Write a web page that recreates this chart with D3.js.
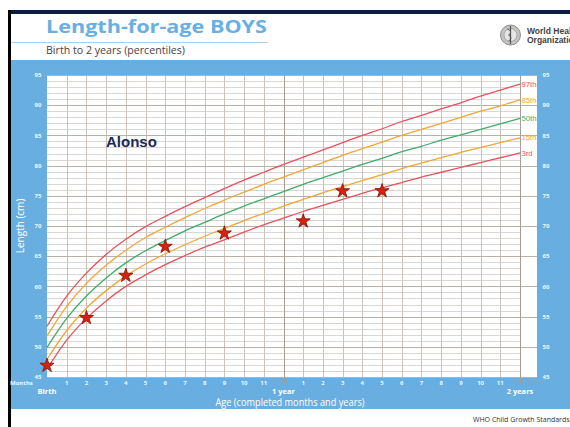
<!DOCTYPE html>
<html>
<head>
<meta charset="utf-8">
<script src="https://cdn.jsdelivr.net/npm/d3@7"></script>
<style>
  html, body { margin: 0; padding: 0; background: #fff; }
  svg { display: block; }
</style>
</head>
<body>
<div id="chart"></div>
<script>
// WHO length-for-age percentiles, boys, birth to 24 months (cm)
const months = d3.range(0, 25);
const p3  = [46.3, 51.1, 54.7, 57.6, 60.0, 61.9, 63.6, 65.1, 66.5, 67.7, 69.0, 70.2, 71.3, 72.4, 73.4, 74.4, 75.4, 76.3, 77.2, 78.1, 78.9, 79.7, 80.5, 81.3, 82.1];
const p15 = [47.9, 52.7, 56.4, 59.3, 61.7, 63.7, 65.4, 66.9, 68.3, 69.6, 70.9, 72.1, 73.3, 74.4, 75.5, 76.5, 77.5, 78.5, 79.5, 80.4, 81.3, 82.2, 83.0, 83.8, 84.6];
const p50 = [49.9, 54.7, 58.4, 61.4, 63.9, 65.9, 67.6, 69.2, 70.6, 72.0, 73.3, 74.5, 75.7, 76.9, 78.0, 79.1, 80.2, 81.2, 82.3, 83.2, 84.2, 85.1, 86.0, 86.9, 87.8];
const p85 = [51.8, 56.7, 60.5, 63.5, 66.0, 68.1, 69.8, 71.4, 72.9, 74.3, 75.6, 76.9, 78.1, 79.3, 80.5, 81.7, 82.8, 83.9, 85.0, 86.0, 87.0, 88.0, 89.0, 89.9, 90.9];
const p97 = [53.4, 58.4, 62.2, 65.3, 67.8, 69.9, 71.6, 73.2, 74.7, 76.2, 77.6, 78.9, 80.2, 81.4, 82.6, 83.8, 85.0, 86.1, 87.3, 88.3, 89.4, 90.4, 91.5, 92.5, 93.5];

// Alonso's measurements
const childAges    = [0, 2, 4, 6, 9, 13, 15, 17];
const childLengths = [46.9, 54.8, 61.8, 66.6, 68.8, 70.8, 75.8, 75.8];

const yTicks = [45, 50, 55, 60, 65, 70, 75, 80, 85, 90, 95];
const monthLabels = ["1","2","3","4","5","6","7","8","9","10","11"];
const yearLabels = [{m: 0, t: "Birth"}, {m: 12, t: "1 year"}, {m: 24, t: "2 years"}];
const percentileNames = ["97th", "85th", "50th", "15th", "3rd"];

const W = 570, H = 427;
const blue = "#69aee0";
const red = "#e8525f", orange = "#f4a535", green = "#3fac6a";

const svg = d3.select("#chart").append("svg")
  .attr("width", W).attr("height", H)
  .style("font-family", "'Open Sans', sans-serif");

// page frame
svg.append("rect").attr("x", 8).attr("y", 10).attr("width", W - 8).attr("height", 4).attr("fill", "#0c1d42");
svg.append("rect").attr("x", 8).attr("y", 10).attr("width", 3).attr("height", H - 10).attr("fill", "#000");

// header
svg.append("text").attr("x", 46).attr("y", 33)
  .attr("font-size", 18).attr("font-weight", 700).attr("fill", "#68b0e3")
  .attr("textLength", 221).attr("lengthAdjust", "spacingAndGlyphs")
  .text("Length-for-age BOYS");
svg.append("line").attr("x1", 11).attr("x2", 268).attr("y1", 42.5).attr("y2", 42.5)
  .attr("stroke", "#a9d0ee").attr("stroke-width", 1);
svg.append("text").attr("x", 46).attr("y", 54)
  .attr("font-size", 10).attr("fill", "#4b4242")
  .attr("textLength", 139).attr("lengthAdjust", "spacingAndGlyphs")
  .text("Birth to 2 years (percentiles)");

// WHO emblem (simplified)
const logo = svg.append("g").attr("transform", "translate(510.5,35)");
logo.append("circle").attr("r", 10).attr("fill", "#c4c4c4").attr("stroke", "#777").attr("stroke-width", 0.8);
logo.append("circle").attr("r", 6.5).attr("fill", "#e6e6e6").attr("stroke", "#888").attr("stroke-width", 0.6);
logo.append("line").attr("y1", -9).attr("y2", 9).attr("stroke", "#555").attr("stroke-width", 1.2);
logo.append("path").attr("d", "M-3,-6 Q3,-3 -2,0 Q3,3 -2,6").attr("fill", "none").attr("stroke", "#555").attr("stroke-width", 1);
const logoFont = "'Liberation Sans Narrow', 'Liberation Sans', sans-serif";
svg.append("text").attr("x", 527).attr("y", 34).attr("font-size", 8.5).attr("font-weight", 700)
  .attr("fill", "#444").attr("font-family", logoFont).text("World Health");
svg.append("text").attr("x", 527).attr("y", 42.5).attr("font-size", 8.5).attr("font-weight", 700)
  .attr("fill", "#444").attr("font-family", logoFont).text("Organization");

// blue panel
svg.append("rect").attr("x", 11).attr("y", 60).attr("width", W - 11).attr("height", 349).attr("fill", blue);

const x = d3.scaleLinear().domain([0, 24]).range([47, 520]);
const y = d3.scaleLinear().domain([45, 95]).range([377, 75]);

// plot area
svg.append("rect").attr("x", x(0)).attr("y", y(95)).attr("width", 537 - x(0)).attr("height", y(45) - y(95)).attr("fill", "#fff");

const grid = svg.append("g");
// 1 cm lines
grid.selectAll(".minor").data(d3.range(46, 95).filter(v => v % 5 !== 0)).join("line")
  .attr("x1", x(0)).attr("x2", x(24))
  .attr("y1", d => Math.round(y(d)) + 0.5).attr("y2", d => Math.round(y(d)) + 0.5)
  .attr("stroke", "#dad6d2").attr("stroke-width", 1);
// month lines
grid.selectAll(".month").data(d3.range(1, 24)).join("line")
  .attr("x1", d => Math.round(x(d)) + 0.5).attr("x2", d => Math.round(x(d)) + 0.5)
  .attr("y1", y(95)).attr("y2", y(45))
  .attr("stroke", d => d === 12 ? "#a69d95" : "#c9c1ba").attr("stroke-width", 1);
// 5 cm lines
grid.selectAll(".major").data(yTicks).join("line")
  .attr("x1", x(0)).attr("x2", 537)
  .attr("y1", d => Math.round(y(d)) + 0.5).attr("y2", d => Math.round(y(d)) + 0.5)
  .attr("stroke", "#b9b0a8").attr("stroke-width", 1);
// year ticks
grid.selectAll(".year").data([12, 24]).join("line")
  .attr("x1", d => Math.round(x(d)) + 0.5).attr("x2", d => Math.round(x(d)) + 0.5)
  .attr("y1", y(95)).attr("y2", y(45) + 7)
  .attr("stroke", "#a69d95").attr("stroke-width", 1);

// percentile curves
const series = [
  {name: percentileNames[0], values: p97, color: red},
  {name: percentileNames[1], values: p85, color: orange},
  {name: percentileNames[2], values: p50, color: green},
  {name: percentileNames[3], values: p15, color: orange},
  {name: percentileNames[4], values: p3,  color: red}
];
const line = d3.line().x((d, i) => x(months[i])).y(d => y(d)).curve(d3.curveCatmullRom.alpha(0.5));
svg.append("g").selectAll("path").data(series).join("path")
  .attr("d", d => line(d.values))
  .attr("fill", "none").attr("stroke", d => d.color).attr("stroke-width", 1.3);

const labelY = [84, 100, 118, 137, 153];
svg.append("g").selectAll("text").data(series).join("text")
  .attr("x", 521.5).attr("y", (d, i) => labelY[i] + 3)
  .attr("font-size", 8).attr("fill", d => d.color)
  .attr("font-family", logoFont)
  .attr("textLength", d => d.name.length === 4 ? 15 : 11).attr("lengthAdjust", "spacingAndGlyphs")
  .text(d => d.name);

// y tick labels, both sides
const tickStyle = sel => sel.attr("font-size", 6).attr("font-weight", 700).attr("fill", "#eef6fc")
  .attr("text-anchor", "middle").attr("dy", "0.35em");
svg.append("g").selectAll("text").data(yTicks).join("text")
  .attr("x", 38).attr("y", d => y(d)).text(d => d).call(tickStyle);
svg.append("g").selectAll("text").data(yTicks).join("text")
  .attr("x", 546).attr("y", d => y(d)).text(d => d).call(tickStyle);

// x tick labels
svg.append("g").selectAll("text").data(d3.range(1, 24).filter(m => m !== 12)).join("text")
  .attr("x", d => x(d)).attr("y", 382.5).text(d => monthLabels[(d % 12) - 1]).call(tickStyle);
svg.append("text").attr("x", 10).attr("y", 382.5).attr("font-size", 6).attr("font-weight", 700)
  .attr("fill", "#eef6fc").attr("dy", "0.35em").text("Months");
svg.append("g").selectAll("text").data(yearLabels).join("text")
  .attr("x", d => x(d.m)).attr("y", 393.5)
  .attr("font-size", 7.5).attr("font-weight", 700).attr("fill", "#fff").attr("text-anchor", "middle")
  .text(d => d.t);

// axis titles
svg.append("text").attr("x", 290).attr("y", 406)
  .attr("font-size", 10.5).attr("fill", "#fff").attr("text-anchor", "middle")
  .attr("textLength", 149).attr("lengthAdjust", "spacingAndGlyphs")
  .text("Age (completed months and years)");
svg.append("text").attr("transform", "translate(24,226) rotate(-90)")
  .attr("font-size", 10).attr("fill", "#fff").attr("text-anchor", "middle")
  .text("Length (cm)");

// child name
svg.append("text").attr("x", 106).attr("y", 147)
  .attr("font-size", 15).attr("font-weight", 700).attr("fill", "#1b2a55")
  .attr("font-family", "'Liberation Sans', Arial, sans-serif")
  .text("Alonso");

// child's points
svg.append("g").selectAll("path").data(childAges).join("path")
  .attr("transform", (d, i) => `translate(${x(d)},${y(childLengths[i])})`)
  .attr("d", d3.symbol(d3.symbolStar, 62))
  .attr("fill", "#d8200e").attr("stroke", "#7a1508").attr("stroke-width", 0.8);

// footer
svg.append("text").attr("x", 473).attr("y", 422)
  .attr("font-size", 7).attr("fill", "#333")
  .text("WHO Child Growth Standards");
</script>
</body>
</html>
